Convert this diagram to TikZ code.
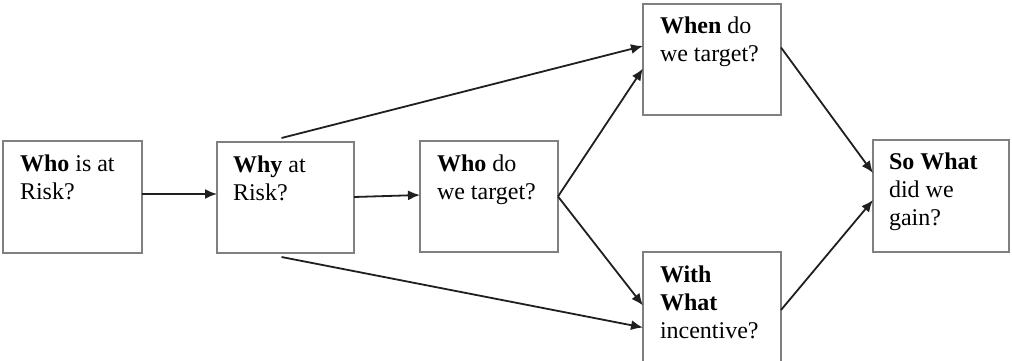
\documentclass[tikz,border=0pt]{standalone}
\usepackage{fontspec}
\setmainfont{Liberation Serif}
\usetikzlibrary{arrows.meta}

\tikzset{
  qbox/.style={draw=black!50, line width=1.5pt, rectangle, inner sep=0pt,
               outer sep=0pt, anchor=north west},
  qtext/.style={anchor=north west, inner sep=0pt, outer sep=0pt, align=left,
                font=\fontsize{24}{28}\selectfont},
  flow/.style={draw=black!88, line width=1.8pt,
               -{Latex[length=12pt,width=10pt]}}
}

\begin{document}
\begin{tikzpicture}[x=1pt, y=-1pt]
  \useasboundingbox (0,0) rectangle (1012,361);

  % question boxes
  \node[qbox, minimum width=139pt, minimum height=112pt] (b1) at (3,141) {};
  \node[qbox, minimum width=137pt, minimum height=111pt] (b2) at (217,142) {};
  \node[qbox, minimum width=138pt, minimum height=111pt] (b3) at (420,141) {};
  \node[qbox, minimum width=138pt, minimum height=111pt] (b4) at (643,4) {};
  \node[qbox, minimum width=138pt, minimum height=111pt] (b5) at (643,252) {};
  \node[qbox, minimum width=136pt, minimum height=112pt] (b6) at (873,140) {};

  % box texts
  \node[qtext] (t1) at (20,155) {\textbf{Who} is at\\Risk?};
  \node[qtext] (t2) at (233,156) {\textbf{Why} at\\Risk?};
  \node[qtext] (t3) at (437,155) {\textbf{Who} do\\we target?};
  \node[qtext] (t4) at (660,17) {\textbf{When} do\\we target?};
  \node[qtext] (t5) at (660,266) {\textbf{With}\\\textbf{What}\\incentive?};
  \node[qtext] (t6) at (889,153) {\textbf{So What}\\did we\\gain?};

  % connectors
  \draw[flow] ([yshift=3pt]b1.east) -- ([yshift=3.5pt]b2.west);
  \draw[flow] ([yshift=0.5pt]b2.east) -- ([yshift=1.5pt]b3.west);
  \draw[flow] ([xshift=-4pt,yshift=4pt]b2.north) -- ([yshift=13.5pt]b4.west);
  \draw[flow] ([xshift=-4pt,yshift=-4pt]b2.south) -- ([yshift=-20pt]b5.west);
  \draw[flow] (b3.east) -- ([yshift=-9pt]b4.west);
  \draw[flow] (b3.east) -- ([yshift=2pt]b5.west);
  \draw[flow] ([yshift=12pt]b4.east) -- ([yshift=23pt]b6.west);
  \draw[flow] ([yshift=-2.5pt]b5.east) -- ([yshift=-4pt]b6.west);
\end{tikzpicture}
\end{document}
